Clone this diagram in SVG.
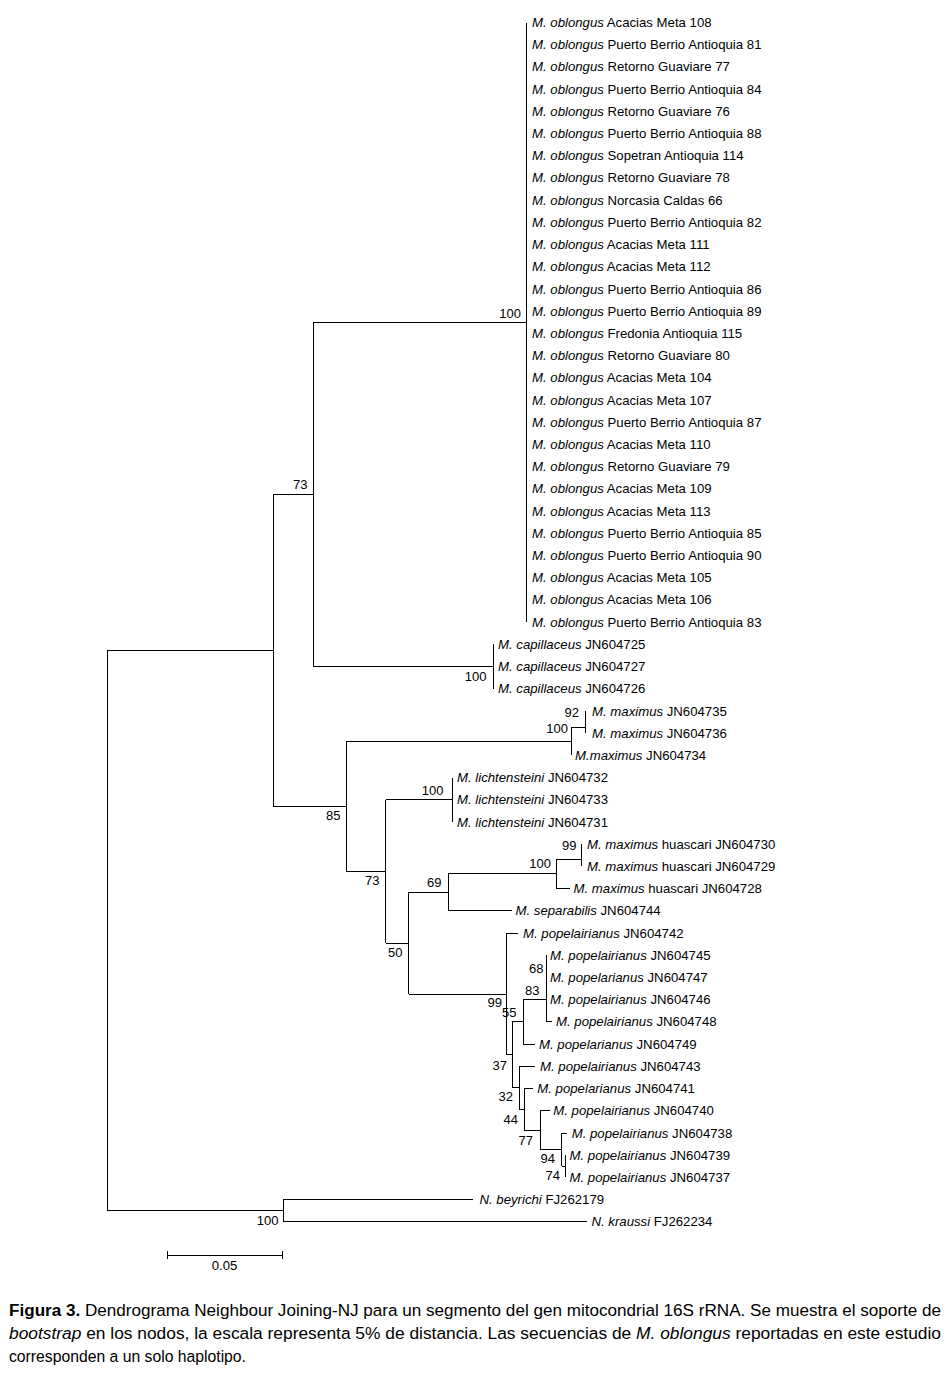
<svg xmlns="http://www.w3.org/2000/svg" width="950" height="1381" viewBox="0 0 950 1381">
<style>
text{font-family:"Liberation Sans",Arial,sans-serif;fill:#000}
.t{font-size:13.2px}
.b{font-size:13px;text-anchor:end}
.i{font-style:italic}
.cap{font-size:16.3px}
.bold{font-weight:bold}
#connectors path{fill:none;stroke:#000;stroke-width:1;shape-rendering:crispEdges}
</style>
<rect width="950" height="1381" fill="#fff"/>
<g id="connectors">
<path d="M107.3,650.4V1210.7M107.3,650.4H273M107.3,1210.7H283.3"/>
<path d="M273,494.5V806.35M273,494.5H313.5M273,806.35H346"/>
<path d="M313.5,322.3V666.6M313.5,322.3H526M313.5,666.6H493"/>
<path d="M526,22.5V622.17"/>
<path d="M493,644.38V688.8"/>
<path d="M346,741.2V871.5M346,741.2H571.7M346,871.5H385.7"/>
<path d="M571.7,727V755.43M571.7,727H585.7"/>
<path d="M585.7,711.01V733.22"/>
<path d="M385.7,799.85V943.2M385.7,799.85H452M385.7,943.2H408.5"/>
<path d="M452,777.64V822.06"/>
<path d="M408.5,892.4V994M408.5,892.4H448M408.5,994H506.7"/>
<path d="M448,873.85V910.9M448,873.85H556M448,910.9H511.7"/>
<path d="M556,859V888.69M556,859H581M556,888.69H569.5"/>
<path d="M581,844.27V866.48"/>
<path d="M506.7,933.11V1054.9M506.7,933.11H517.5M506.7,1054.9H512.3"/>
<path d="M512.3,1021.9V1087.9M512.3,1021.9H523.3M512.3,1087.9H519"/>
<path d="M523.3,999.7V1044.16M523.3,999.7H546M523.3,1044.16H535"/>
<path d="M546,977.5V1021.95M546,1021.95H551.7"/>
<path d="M546,955.32V999.74"/>
<path d="M519,1066.37V1109.4M519,1066.37H535M519,1109.4H524.3"/>
<path d="M524.3,1088.58V1130.2M524.3,1088.58H532.7M524.3,1130.2H540"/>
<path d="M540,1110.79V1149.7M540,1110.79H550M540,1149.7H561.7"/>
<path d="M561.7,1133V1166.3M561.7,1133H567.3M561.7,1166.3H565"/>
<path d="M565,1155.21V1177.42"/>
<path d="M283.3,1199.63V1221.84M283.3,1199.63H473M283.3,1221.84H587"/>
</g>
<g id="bootstrap-labels">
<g id="node-oblongus"><text class="b" x="521" y="317.5">100</text></g>
<g id="node-capillaceus"><text class="b" x="486.5" y="680.5">100</text></g>
<g id="node-73a"><text class="b" x="307.5" y="488.5">73</text></g>
<g id="node-85"><text class="b" x="340.5" y="819.5">85</text></g>
<g id="node-92"><text class="b" x="579" y="716.5">92</text></g>
<g id="node-maximus"><text class="b" x="568" y="733">100</text></g>
<g id="node-lichtensteini"><text class="b" x="443.5" y="794.5">100</text></g>
<g id="node-73b"><text class="b" x="379.5" y="884.5">73</text></g>
<g id="node-99h"><text class="b" x="576.5" y="849.5">99</text></g>
<g id="node-huascari"><text class="b" x="551" y="867.5">100</text></g>
<g id="node-69"><text class="b" x="441.5" y="886.5">69</text></g>
<g id="node-50"><text class="b" x="402.5" y="956.5">50</text></g>
<g id="node-99p"><text class="b" x="502" y="1007">99</text></g>
<g id="node-68"><text class="b" x="543.5" y="972.5">68</text></g>
<g id="node-83"><text class="b" x="539.5" y="995">83</text></g>
<g id="node-55"><text class="b" x="516.5" y="1017">55</text></g>
<g id="node-37"><text class="b" x="507" y="1069.5">37</text></g>
<g id="node-32"><text class="b" x="513" y="1101">32</text></g>
<g id="node-44"><text class="b" x="518" y="1123.5">44</text></g>
<g id="node-77"><text class="b" x="533" y="1144.5">77</text></g>
<g id="node-94"><text class="b" x="555" y="1162.5">94</text></g>
<g id="node-74"><text class="b" x="560" y="1179.5">74</text></g>
<g id="node-N"><text class="b" x="278.5" y="1224.5">100</text></g>
</g>
<g id="tips">
<g id="tip-0"><text class="t" x="532" y="27"><tspan class="i">M. oblongus</tspan> Acacias Meta 108</text></g>
<g id="tip-1"><text class="t" x="532" y="49.21"><tspan class="i">M. oblongus</tspan> Puerto Berrio Antioquia 81</text></g>
<g id="tip-2"><text class="t" x="532" y="71.42"><tspan class="i">M. oblongus</tspan> Retorno Guaviare 77</text></g>
<g id="tip-3"><text class="t" x="532" y="93.63"><tspan class="i">M. oblongus</tspan> Puerto Berrio Antioquia 84</text></g>
<g id="tip-4"><text class="t" x="532" y="115.84"><tspan class="i">M. oblongus</tspan> Retorno Guaviare 76</text></g>
<g id="tip-5"><text class="t" x="532" y="138.05"><tspan class="i">M. oblongus</tspan> Puerto Berrio Antioquia 88</text></g>
<g id="tip-6"><text class="t" x="532" y="160.26"><tspan class="i">M. oblongus</tspan> Sopetran Antioquia 114</text></g>
<g id="tip-7"><text class="t" x="532" y="182.47"><tspan class="i">M. oblongus</tspan> Retorno Guaviare 78</text></g>
<g id="tip-8"><text class="t" x="532" y="204.68"><tspan class="i">M. oblongus</tspan> Norcasia Caldas 66</text></g>
<g id="tip-9"><text class="t" x="532" y="226.89"><tspan class="i">M. oblongus</tspan> Puerto Berrio Antioquia 82</text></g>
<g id="tip-10"><text class="t" x="532" y="249.1"><tspan class="i">M. oblongus</tspan> Acacias Meta 111</text></g>
<g id="tip-11"><text class="t" x="532" y="271.31"><tspan class="i">M. oblongus</tspan> Acacias Meta 112</text></g>
<g id="tip-12"><text class="t" x="532" y="293.52"><tspan class="i">M. oblongus</tspan> Puerto Berrio Antioquia 86</text></g>
<g id="tip-13"><text class="t" x="532" y="315.73"><tspan class="i">M. oblongus</tspan> Puerto Berrio Antioquia 89</text></g>
<g id="tip-14"><text class="t" x="532" y="337.94"><tspan class="i">M. oblongus</tspan> Fredonia Antioquia 115</text></g>
<g id="tip-15"><text class="t" x="532" y="360.15"><tspan class="i">M. oblongus</tspan> Retorno Guaviare 80</text></g>
<g id="tip-16"><text class="t" x="532" y="382.36"><tspan class="i">M. oblongus</tspan> Acacias Meta 104</text></g>
<g id="tip-17"><text class="t" x="532" y="404.57"><tspan class="i">M. oblongus</tspan> Acacias Meta 107</text></g>
<g id="tip-18"><text class="t" x="532" y="426.78"><tspan class="i">M. oblongus</tspan> Puerto Berrio Antioquia 87</text></g>
<g id="tip-19"><text class="t" x="532" y="448.99"><tspan class="i">M. oblongus</tspan> Acacias Meta 110</text></g>
<g id="tip-20"><text class="t" x="532" y="471.2"><tspan class="i">M. oblongus</tspan> Retorno Guaviare 79</text></g>
<g id="tip-21"><text class="t" x="532" y="493.41"><tspan class="i">M. oblongus</tspan> Acacias Meta 109</text></g>
<g id="tip-22"><text class="t" x="532" y="515.62"><tspan class="i">M. oblongus</tspan> Acacias Meta 113</text></g>
<g id="tip-23"><text class="t" x="532" y="537.83"><tspan class="i">M. oblongus</tspan> Puerto Berrio Antioquia 85</text></g>
<g id="tip-24"><text class="t" x="532" y="560.04"><tspan class="i">M. oblongus</tspan> Puerto Berrio Antioquia 90</text></g>
<g id="tip-25"><text class="t" x="532" y="582.25"><tspan class="i">M. oblongus</tspan> Acacias Meta 105</text></g>
<g id="tip-26"><text class="t" x="532" y="604.46"><tspan class="i">M. oblongus</tspan> Acacias Meta 106</text></g>
<g id="tip-27"><text class="t" x="532" y="626.67"><tspan class="i">M. oblongus</tspan> Puerto Berrio Antioquia 83</text></g>
<g id="tip-28"><text class="t" x="498" y="648.88"><tspan class="i">M. capillaceus</tspan> JN604725</text></g>
<g id="tip-29"><text class="t" x="498" y="671.09"><tspan class="i">M. capillaceus</tspan> JN604727</text></g>
<g id="tip-30"><text class="t" x="498" y="693.3"><tspan class="i">M. capillaceus</tspan> JN604726</text></g>
<g id="tip-31"><text class="t" x="592" y="715.51"><tspan class="i">M. maximus</tspan> JN604735</text></g>
<g id="tip-32"><text class="t" x="592" y="737.72"><tspan class="i">M. maximus</tspan> JN604736</text></g>
<g id="tip-33"><text class="t" x="575" y="759.93"><tspan class="i">M.maximus</tspan> JN604734</text></g>
<g id="tip-34"><text class="t" x="457" y="782.14"><tspan class="i">M. lichtensteini</tspan> JN604732</text></g>
<g id="tip-35"><text class="t" x="457" y="804.35"><tspan class="i">M. lichtensteini</tspan> JN604733</text></g>
<g id="tip-36"><text class="t" x="457" y="826.56"><tspan class="i">M. lichtensteini</tspan> JN604731</text></g>
<g id="tip-37"><text class="t" x="587" y="848.77"><tspan class="i">M. maximus</tspan> huascari JN604730</text></g>
<g id="tip-38"><text class="t" x="587" y="870.98"><tspan class="i">M. maximus</tspan> huascari JN604729</text></g>
<g id="tip-39"><text class="t" x="573.5" y="893.19"><tspan class="i">M. maximus</tspan> huascari JN604728</text></g>
<g id="tip-40"><text class="t" x="515.5" y="915.4"><tspan class="i">M. separabilis</tspan> JN604744</text></g>
<g id="tip-41"><text class="t" x="523" y="937.61"><tspan class="i">M. popelairianus</tspan> JN604742</text></g>
<g id="tip-42"><text class="t" x="550" y="959.82"><tspan class="i">M. popelairianus</tspan> JN604745</text></g>
<g id="tip-43"><text class="t" x="550" y="982.03"><tspan class="i">M. popelarianus</tspan> JN604747</text></g>
<g id="tip-44"><text class="t" x="550" y="1004.24"><tspan class="i">M. popelairianus</tspan> JN604746</text></g>
<g id="tip-45"><text class="t" x="556" y="1026.45"><tspan class="i">M. popelairianus</tspan> JN604748</text></g>
<g id="tip-46"><text class="t" x="539" y="1048.66"><tspan class="i">M. popelarianus</tspan> JN604749</text></g>
<g id="tip-47"><text class="t" x="540" y="1070.87"><tspan class="i">M. popelairianus</tspan> JN604743</text></g>
<g id="tip-48"><text class="t" x="537.3" y="1093.08"><tspan class="i">M. popelarianus</tspan> JN604741</text></g>
<g id="tip-49"><text class="t" x="553.3" y="1115.29"><tspan class="i">M. popelairianus</tspan> JN604740</text></g>
<g id="tip-50"><text class="t" x="571.7" y="1137.5"><tspan class="i">M. popelairianus</tspan> JN604738</text></g>
<g id="tip-51"><text class="t" x="569.5" y="1159.71"><tspan class="i">M. popelairianus</tspan> JN604739</text></g>
<g id="tip-52"><text class="t" x="569.5" y="1181.92"><tspan class="i">M. popelairianus</tspan> JN604737</text></g>
<g id="tip-53"><text class="t" x="479.5" y="1204.13"><tspan class="i">N. beyrichi</tspan> FJ262179</text></g>
<g id="tip-54"><text class="t" x="591.5" y="1226.34"><tspan class="i">N. kraussi</tspan> FJ262234</text></g>
</g>
<g id="scale-bar">
<path d="M167,1255H282M167,1251V1259M282,1251V1259" fill="none" stroke="#000" stroke-width="1" shape-rendering="crispEdges"/>
<text class="t" x="224.5" y="1269.5" text-anchor="middle">0.05</text>
</g>
<g id="caption">
<text class="cap" x="9" y="1316" textLength="932" lengthAdjust="spacingAndGlyphs"><tspan class="bold">Figura 3.</tspan> Dendrograma Neighbour Joining-NJ para un segmento del gen mitocondrial 16S rRNA. Se muestra el soporte de</text>
<text class="cap" x="9" y="1339" textLength="932" lengthAdjust="spacingAndGlyphs"><tspan class="i">bootstrap</tspan> en los nodos, la escala representa 5% de distancia. Las secuencias de <tspan class="i">M. oblongus</tspan> reportadas en este estudio</text>
<text class="cap" x="9" y="1362" textLength="237" lengthAdjust="spacingAndGlyphs">corresponden a un solo haplotipo.</text>
</g>
</svg>
